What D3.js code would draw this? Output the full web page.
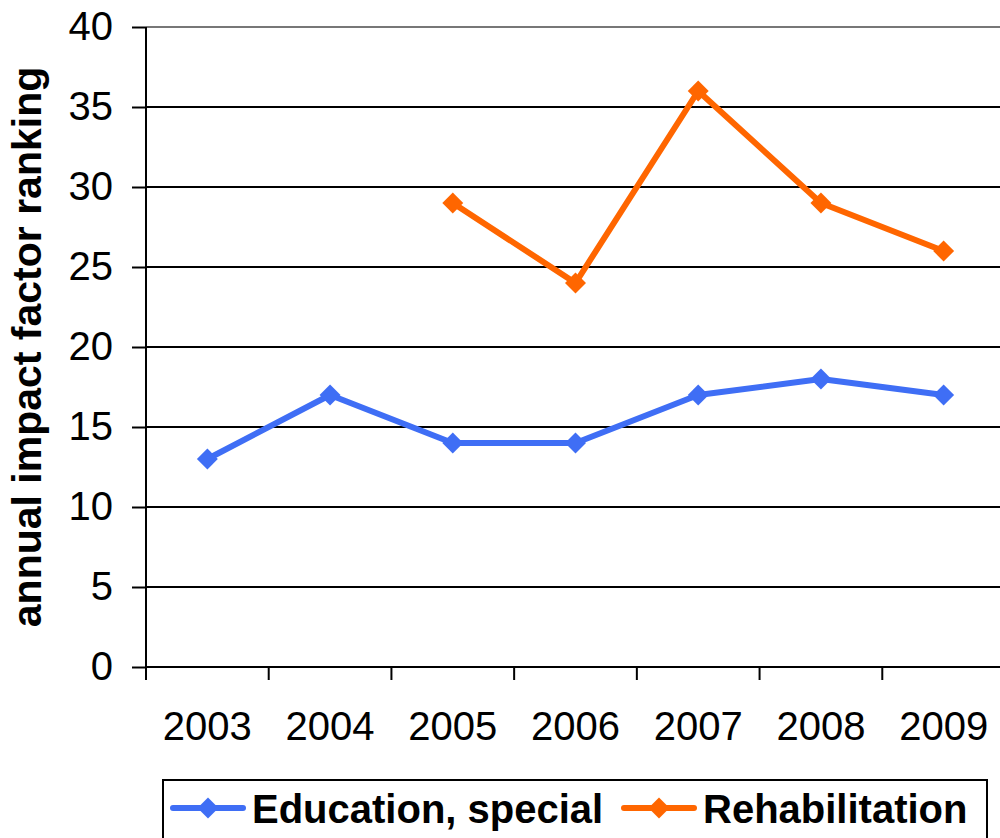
<!DOCTYPE html>
<html><head><meta charset="utf-8">
<script src="https://cdn.jsdelivr.net/npm/d3@7"></script>
<style>body{margin:0;background:#fff}svg{display:block}</style>
</head><body>
<svg id="c" width="1000" height="838"></svg>
<script>
const years = ["2003","2004","2005","2006","2007","2008","2009"];
const education = [13,17,14,14,17,18,17];
const rehab = [null,null,29,24,36,29,26];
const yTicks = [0,5,10,15,20,25,30,35,40];
const seriesNames = ["Education, special","Rehabilitation"];
const colors = ["#3f6ef5","#ff6600"];

const svg = d3.select("#c");
const L=146, R=1005, T=27, B=667;
const x = d3.scaleBand().domain(years).range([L,R]);
const y = d3.scaleLinear().domain([0,40]).range([B,T]);
const font = "'Liberation Sans', Arial, sans-serif";

// gridlines
svg.append("g").selectAll("line").data(yTicks.filter(d=>d>0)).join("line")
  .attr("x1",L).attr("x2",1000).attr("y1",d=>y(d)).attr("y2",d=>y(d))
  .attr("stroke",d=>d===40?"#777":"#000").attr("stroke-width",2);

// y axis
const ya = svg.append("g").attr("transform",`translate(${L},0)`)
  .call(d3.axisLeft(y).tickValues(yTicks).tickSize(14).tickPadding(19));
ya.select(".domain").remove();
ya.append("line").attr("x1",0).attr("x2",0).attr("y1",T).attr("y2",B).attr("stroke","#000").attr("stroke-width",2);
ya.selectAll(".tick line").attr("stroke","#000").attr("stroke-width",2);
ya.selectAll("text").attr("font-family",font).attr("font-size",40).attr("fill","#000");

// x axis
const xa = svg.append("g").attr("transform",`translate(0,${B})`);
xa.append("line").attr("x1",L).attr("x2",1000).attr("stroke","#000").attr("stroke-width",2);
const edges = years.map(d=>x(d)).concat([R]);
xa.selectAll(".xt").data(edges).join("line").attr("class","xt")
  .attr("x1",d=>d).attr("x2",d=>d).attr("y1",0).attr("y2",13).attr("stroke","#000").attr("stroke-width",2);
xa.selectAll("text").data(years).join("text")
  .attr("x",d=>x(d)+x.bandwidth()/2).attr("y",73).attr("text-anchor","middle")
  .attr("font-family",font).attr("font-size",40).text(d=>d);

// y label
svg.append("text").attr("transform","translate(41,347) rotate(-90)")
  .attr("text-anchor","middle").attr("font-family",font).attr("font-weight","bold")
  .attr("font-size",41).text("annual impact factor ranking");

const cx = d=>x(d)+x.bandwidth()/2;
const diamond = d3.symbol().type(d3.symbolDiamond2).size(280);
[education, rehab].forEach((vals,i)=>{
  const pts = years.map((yr,j)=>({yr,v:vals[j]}));
  const line = d3.line().defined(d=>d.v!=null).x(d=>cx(d.yr)).y(d=>y(d.v));
  svg.append("path").attr("d",line(pts)).attr("fill","none")
    .attr("stroke",colors[i]).attr("stroke-width",6).attr("stroke-linejoin","round");
  svg.append("g").selectAll("path").data(pts.filter(d=>d.v!=null)).join("path")
    .attr("d",diamond).attr("transform",d=>`translate(${cx(d.yr)},${y(d.v)})`)
    .attr("fill",colors[i]);
});

// legend
svg.append("rect").attr("x",163).attr("y",780).attr("width",824).attr("height",70)
  .attr("fill","#fff").attr("stroke","#000").attr("stroke-width",2);
const lx = [173,624];
seriesNames.forEach((n,i)=>{
  const g = svg.append("g").attr("transform",`translate(${lx[i]},808)`);
  g.append("line").attr("x1",0).attr("x2",70).attr("stroke",colors[i]).attr("stroke-width",6).attr("stroke-linecap","round");
  g.append("path").attr("d",diamond).attr("transform","translate(35,0)").attr("fill",colors[i]);
  g.append("text").attr("x",79).attr("y",15).attr("font-family",font).attr("font-weight","bold")
    .attr("font-size",40).text(n);
});
</script>
</body></html>
